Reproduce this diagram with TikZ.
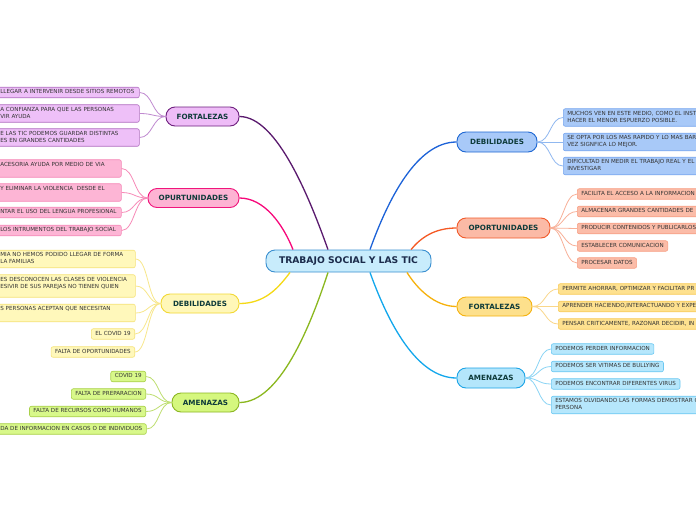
\documentclass[tikz,border=0pt]{standalone}
\usepackage{fontspec}
\setmainfont{DejaVu Sans}
\definecolor{ctrfill}{HTML}{C8ECFC}
\definecolor{ctrdraw}{HTML}{3A8FD0}
\definecolor{ctrtext}{HTML}{1B2B4B}
\definecolor{brtext}{HTML}{0E3B3A}
\definecolor{lftext}{HTML}{333333}
% left fortalezas
\definecolor{lfF}{HTML}{EEBCF7}\definecolor{lfD}{HTML}{6E1F7E}\definecolor{lfE}{HTML}{5A1A6E}
\definecolor{lfLF}{HTML}{EEC0F8}\definecolor{lfLD}{HTML}{B070C0}\definecolor{lfC}{HTML}{C08AD0}
% left opurtunidades
\definecolor{loF}{HTML}{FDB3D3}\definecolor{loD}{HTML}{F0157C}\definecolor{loE}{HTML}{F7077A}
\definecolor{loLF}{HTML}{FDB5D5}\definecolor{loLD}{HTML}{F58AB8}\definecolor{loC}{HTML}{F78AB8}
% left debilidades
\definecolor{ldF}{HTML}{FFF7B8}\definecolor{ldD}{HTML}{F2D835}\definecolor{ldE}{HTML}{F5D915}
\definecolor{ldLF}{HTML}{FFF8BB}\definecolor{ldLD}{HTML}{F5E27A}\definecolor{ldC}{HTML}{F8E78A}
% left amenazas
\definecolor{laF}{HTML}{D5F77E}\definecolor{laD}{HTML}{8CB623}\definecolor{laE}{HTML}{8BB81F}
\definecolor{laLF}{HTML}{D8F88A}\definecolor{laLD}{HTML}{A9D04A}\definecolor{laC}{HTML}{BEDE70}
% right debilidades
\definecolor{rdF}{HTML}{A8C9F8}\definecolor{rdD}{HTML}{1E67D3}\definecolor{rdE}{HTML}{1C62D8}
\definecolor{rdLF}{HTML}{A8C9F8}\definecolor{rdLD}{HTML}{7AA8EF}\definecolor{rdC}{HTML}{90B8F0}
% right oportunidades
\definecolor{roF}{HTML}{FBBAA6}\definecolor{roD}{HTML}{F15A2A}\definecolor{roE}{HTML}{F55A25}
\definecolor{roLF}{HTML}{FBBCA8}\definecolor{roLD}{HTML}{F7A085}\definecolor{roC}{HTML}{F8B098}
% right fortalezas
\definecolor{rfF}{HTML}{FDE08C}\definecolor{rfD}{HTML}{F5B20F}\definecolor{rfE}{HTML}{F6B10C}
\definecolor{rfLF}{HTML}{FEE18F}\definecolor{rfLD}{HTML}{F8CC5C}\definecolor{rfC}{HTML}{FAD78A}
% right amenazas
\definecolor{raF}{HTML}{B4E6FB}\definecolor{raD}{HTML}{1BA4E6}\definecolor{raE}{HTML}{12A7EC}
\definecolor{raLF}{HTML}{B6E7FC}\definecolor{raLD}{HTML}{6CC8F2}\definecolor{raC}{HTML}{8AD4F5}
\newcommand\lffont{\fontsize{5.6}{7}\selectfont}
\newcommand\lfstrut{\rule[-1.6pt]{0pt}{5.4pt}}
\newcommand\brfont{\fontsize{7.2}{8}\selectfont\bfseries}
\newcommand\ctrfont{\fontsize{9.2}{10}\selectfont\bfseries}
\begin{document}
\begin{tikzpicture}[x=1pt,y=-1pt,
  leaf/.style={draw, rounded corners=2pt, line width=0.6pt, inner xsep=4pt, inner ysep=2.4pt,
    font=\lffont, text=lftext, align=left,
    execute at begin node=\lfstrut, execute at end node=\lfstrut},
  branch/.style={draw, rounded corners=9pt, line width=0.9pt, font=\brfont, text=brtext,
    minimum height=19pt, inner sep=0pt},
  ctrbox/.style={draw=ctrdraw, fill=ctrfill, rounded corners=9pt, line width=0.9pt, font=\ctrfont,
    text=ctrtext, minimum width=165pt, minimum height=22pt, inner sep=0pt},
  mainedge/.style={line width=1.3pt},
  leafedge/.style={line width=0.8pt},
  lfleaf/.style={leaf, fill=lfLF, draw=lfLD},
  loleaf/.style={leaf, fill=loLF, draw=loLD},
  ldleaf/.style={leaf, fill=ldLF, draw=ldLD},
  laleaf/.style={leaf, fill=laLF, draw=laLD},
  rdleaf/.style={leaf, fill=rdLF, draw=rdLD},
  roleaf/.style={leaf, fill=roLF, draw=roLD},
  rfleaf/.style={leaf, fill=rfLF, draw=rfLD},
  raleaf/.style={leaf, fill=raLF, draw=raLD}
]
\useasboundingbox (0,0) rectangle (696,520);
\clip (0,0) rectangle (696,520);
\fill[white] (0,0) rectangle (696,520);

% center
\node[ctrbox] (c) at (348.5,261) {TRABAJO SOCIAL Y LAS TIC};

% branches
\node[branch, fill=lfF, draw=lfD, minimum width=73pt] (lf) at (202.5,116.5) {FORTALEZAS};
\node[branch, fill=loF, draw=loD, minimum width=91pt] (lo) at (193.5,198) {OPURTUNIDADES};
\node[branch, fill=ldF, draw=ldD, minimum width=78pt] (ld) at (200,303.5) {DEBILIDADES};
\node[branch, fill=laF, draw=laD, minimum width=67pt] (la) at (205.5,402.5) {AMENAZAS};
\node[branch, fill=rdF, draw=rdD, minimum width=80pt, minimum height=20pt] (rd) at (497,142) {DEBILIDADES};
\node[branch, fill=roF, draw=roD, minimum width=93pt, minimum height=20pt] (ro) at (503.5,228) {OPORTUNIDADES};
\node[branch, fill=rfF, draw=rfD, minimum width=75pt] (rf) at (494.5,306.5) {FORTALEZAS};
\node[branch, fill=raF, draw=raD, minimum width=68pt, minimum height=20pt] (ra) at (491,378) {AMENAZAS};

% main edges
\draw[mainedge, lfE] ([xshift=-20.5pt]c.north) .. controls +(-18,-50) and +(38,0) .. (lf.east);
\draw[mainedge, loE] ([xshift=-55.5pt]c.north) .. controls +(-10,-25) and +(25,0) .. (lo.east);
\draw[mainedge, ldE] ([xshift=-58.5pt]c.south) .. controls +(-12,16) and +(25,0) .. (ld.east);
\draw[mainedge, laE] ([xshift=-20.5pt]c.south) .. controls +(-18,55) and +(40,0) .. (la.east);
\draw[mainedge, rdE] ([xshift=21.5pt]c.north) .. controls +(18,-50) and +(-40,0) .. (rd.west);
\draw[mainedge, roE] ([xshift=62.5pt]c.north) .. controls +(10,-12) and +(-22,0) .. (ro.west);
\draw[mainedge, rfE] ([xshift=58.5pt]c.south) .. controls +(10,16) and +(-22,0) .. (rf.west);
\draw[mainedge, raE] ([xshift=21.5pt]c.south) .. controls +(18,50) and +(-40,0) .. (ra.west);

% left fortalezas leaves (R=139)
\node[lfleaf, anchor=west, text width=135pt] (lf1) at (-4,92.5) {\mbox{LLEGAR A INTERVENIR DESDE SITIOS REMOTOS}};
\node[lfleaf, anchor=west, text width=135pt] (lf2) at (-4,113.5) {\mbox{A CONFIANZA PARA QUE LAS PERSONAS}\\VIR AYUDA};
\node[lfleaf, anchor=west, text width=135pt] (lf3) at (-4,137.5) {\mbox{E LAS TIC PODEMOS GUARDAR DISTINTAS}\\ES EN GRANDES CANTIDADES};
\foreach \n in {lf1,lf2,lf3} \draw[leafedge, lfC] (lf.west) .. controls +(-13,0) and +(13,0) .. (\n.east);

% left opurtunidades leaves (R=121)
\node[loleaf, anchor=west, text width=117pt] (lo1) at (-4,168.5) {\mbox{ACESORIA AYUDA POR MEDIO DE VIA}\\~};
\node[loleaf, anchor=west, text width=117pt] (lo2) at (-4,192.5) {\mbox{Y ELIMINAR LA VIOLENCIA\ \ DESDE EL}\\~};
\node[loleaf, anchor=west, text width=117pt] (lo3) at (-4,212.5) {\mbox{NTAR EL USO DEL LENGUA PROFESIONAL}};
\node[loleaf, anchor=west, text width=117pt] (lo4) at (-4,230.5) {\mbox{LOS INTRUMENTOS DEL TRABAJO SOCIAL}};
\foreach \n in {lo1,lo2,lo3,lo4} \draw[leafedge, loC] (lo.west) .. controls +(-13,0) and +(13,0) .. (\n.east);

% left debilidades leaves (R=135)
\node[ldleaf, anchor=west, text width=131pt] (ld1) at (-4,259) {\mbox{MIA NO HEMOS PODIDO LLEGAR DE FORMA}\\LA FAMILIAS};
\node[ldleaf, anchor=west, text width=131pt] (ld2) at (-4,286) {\mbox{ES DESCONOCEN LAS CLASES DE VIOLENCIA}\\\mbox{ESIVIR DE SUS PAREJAS NO TIENEN QUIEN}\\[-2pt]~};
\node[ldleaf, anchor=west, text width=131pt] (ld3) at (-4,313) {\mbox{S PERSONAS ACEPTAN QUE NECESITAN}\\~};
\node[ldleaf, anchor=east] (ld4) at (135,334) {EL COVID 19};
\node[ldleaf, anchor=east] (ld5) at (135,352) {FALTA DE OPORTUNIDADES};
\foreach \n in {ld1,ld2,ld3,ld4,ld5} \draw[leafedge, ldC] (ld.west) .. controls +(-13,0) and +(13,0) .. (\n.east);

% left amenazas leaves (R=146)
\node[laleaf, anchor=east] (la1) at (146,376.5) {COVID 19};
\node[laleaf, anchor=east] (la2) at (146,394) {FALTA DE PREPARACION};
\node[laleaf, anchor=east] (la3) at (146,411.5) {FALTA DE RECURSOS COMO HUMANOS};
\node[laleaf, anchor=west, text width=142pt] (la4) at (-4,429) {\mbox{DA DE INFORMACION EN CASOS O DE INDIVIDUOS}};
\foreach \n in {la1,la2,la3,la4} \draw[leafedge, laC] (la.west) .. controls +(-13,0) and +(13,0) .. (\n.east);

% right debilidades leaves
\node[rdleaf, anchor=west, text width=149pt] (rd1) at (563,117.5) {MUCHOS VEN EN ESTE MEDIO, COMO EL INST\\HACER EL MENOR ESPUERZO POSIBLE.};
\node[rdleaf, anchor=west, text width=149pt] (rd2) at (563,142) {SE OPTA POR LOS MAS RAPIDO Y LO MAS BAR\\VEZ SIGNFICA LO MEJOR.};
\node[rdleaf, anchor=west, text width=149pt] (rd3) at (563,166) {DIFICULTAD EN MEDIR EL TRABAJO REAL Y EL\\INVESTIGAR};
\foreach \n in {rd1,rd2,rd3} \draw[leafedge, rdC] (rd.east) .. controls +(13,0) and +(-13,0) .. (\n.west);

% right oportunidades leaves
\node[roleaf, anchor=west, text width=135pt] (ro1) at (577,194) {FACILITA EL ACCESO A LA INFORMACION};
\node[roleaf, anchor=west, text width=135pt] (ro2) at (577,211.5) {ALMACENAR GRANDES CANTIDADES DE};
\node[roleaf, anchor=west, text width=135pt] (ro3) at (577,228.5) {PRODUCIR CONTENIDOS Y PUBLICARLOS};
\node[roleaf, anchor=west] (ro4) at (577,246) {ESTABLECER COMUNICACION};
\node[roleaf, anchor=west] (ro5) at (577,263) {PROCESAR DATOS};
\foreach \n in {ro1,ro2,ro3,ro4,ro5} \draw[leafedge, roC] (ro.east) .. controls +(13,0) and +(-13,0) .. (\n.west);

% right fortalezas leaves
\node[rfleaf, anchor=west, text width=154pt] (rf1) at (558,289) {PERMITE AHORRAR, OPTIMIZAR Y FACILITAR PR};
\node[rfleaf, anchor=west, text width=154pt] (rf2) at (558,306.5) {APRENDER HACIENDO,INTERACTUANDO Y EXPE};
\node[rfleaf, anchor=west, text width=154pt] (rf3) at (558,324) {PENSAR CRITICAMENTE, RAZONAR DECIDIR, IN};
\foreach \n in {rf1,rf2,rf3} \draw[leafedge, rfC] (rf.east) .. controls +(13,0) and +(-13,0) .. (\n.west);

% right amenazas leaves
\node[raleaf, anchor=west] (ra1) at (551,349) {PODEMOS PERDER INFORMACION};
\node[raleaf, anchor=west] (ra2) at (551,366.5) {PODEMOS SER VITIMAS DE BULLYING};
\node[raleaf, anchor=west] (ra3) at (551,384) {PODEMOS ENCONTRAR DIFERENTES VIRUS};
\node[raleaf, anchor=west, text width=161pt] (ra4) at (551,405) {ESTAMOS OLVIDANDO LAS FORMAS DEMOSTRAR C\\PERSONA};
\foreach \n in {ra1,ra2,ra3,ra4} \draw[leafedge, raC] (ra.east) .. controls +(13,0) and +(-13,0) .. (\n.west);
\end{tikzpicture}
\end{document}
